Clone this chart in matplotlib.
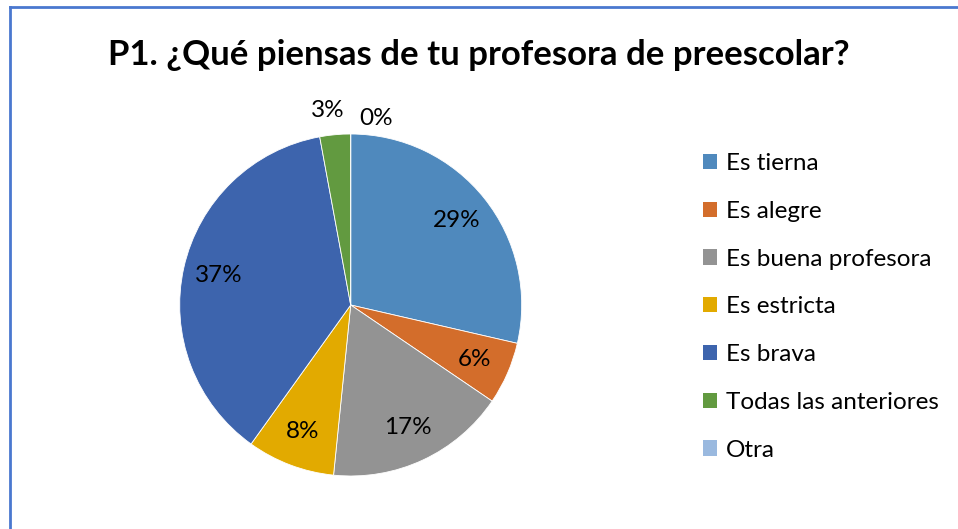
import matplotlib.pyplot as plt
from matplotlib.lines import Line2D
from matplotlib.patches import Patch
import numpy as np

plt.rcParams['font.family'] = ['Lato', 'DejaVu Sans']

categories = ['Es tierna', 'Es alegre', 'Es buena profesora', 'Es estricta',
              'Es brava', 'Todas las anteriores', 'Otra']
values = [28.6, 5.9, 17.1, 8.3, 37.2, 2.9, 0.0]
colors = ['#4F89BD', '#D36D2B', '#939393', '#E2AA00', '#3D64AD', '#629A40', '#9AB9DF']
title = 'P1. ¿Qué piensas de tu profesora de preescolar?'

W, H = 958, 529
fig = plt.figure(figsize=(W / 100, H / 100), dpi=100)

# frame of the chart area (only left and top edges are visible)
fig.add_artist(Line2D([9.5 / W, 9.5 / W], [0, 1 - 6.5 / H], transform=fig.transFigure,
                      color='#4A78CF', lw=2))
fig.add_artist(Line2D([9.5 / W, 1], [1 - 6.5 / H, 1 - 6.5 / H], transform=fig.transFigure,
                      color='#4A78CF', lw=2))

cx, cy, r = 350.7, 305, 171
ax = fig.add_axes([(cx - r) / W, (H - cy - r) / H, 2 * r / W, 2 * r / H])
wedges, _ = ax.pie(values, colors=colors, startangle=90, counterclock=False,
                   radius=1, wedgeprops=dict(edgecolor='white', linewidth=0.6))
ax.set_xlim(-1, 1)
ax.set_ylim(-1, 1)
ax.set_aspect('equal')
ax.axis('off')

total = sum(values)
for w, v in zip(wedges, values):
    ang = np.deg2rad((w.theta1 + w.theta2) / 2)
    pct = '%.0f%%' % (100 * v / total)
    if v / total < 0.04:
        d = 1.14
        x, y = d * np.cos(ang), d * np.sin(ang)
        if v == 0:
            x += 0.15
            y -= 0.05
        else:
            x -= 0.03
        ax.text(x, y, pct, ha='center', va='center', fontsize=17.5, clip_on=False)
    else:
        d = 0.79
        ax.text(d * np.cos(ang), d * np.sin(ang), pct, ha='center', va='center', fontsize=17.5)

fig.text(0.5, 1 - 55 / H, title, ha='center', va='center', fontsize=25, fontweight='bold')

handles = [Patch(facecolor=c, edgecolor='none') for c in colors]
fig.legend(handles, categories, loc='upper left', bbox_to_anchor=(691 / W, 1 - 141 / H),
           frameon=False, fontsize=17.5, handlelength=0.58, handleheight=0.58,
           handletextpad=0.35, labelspacing=1.1, borderpad=0)

fig.savefig('out.png', dpi=100)
